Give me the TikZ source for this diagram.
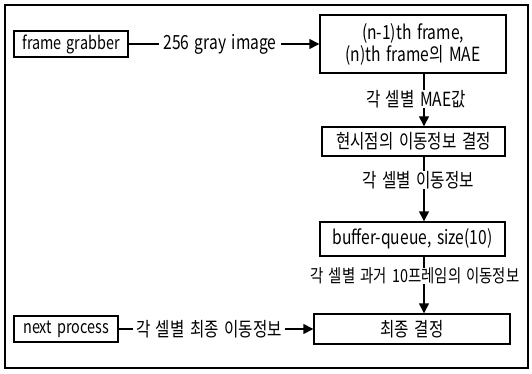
\documentclass[tikz,border=0pt]{standalone}
\usepackage{fontspec}
\setmainfont{Noto Sans CJK KR}[FakeStretch=0.8,WordSpace=1.6]
\usetikzlibrary{arrows.meta}
\begin{document}
\begin{tikzpicture}[x=1pt,y=-1pt,
  box/.style={draw,line width=1.4pt,inner sep=0pt,align=center,font=\fontsize{19.5}{23}\selectfont},
  lbl/.style={inner sep=2pt,font=\fontsize{19.5}{23}\selectfont},
  small/.style={font=\fontsize{18}{22}\selectfont},
  conn/.style={line width=1.4pt},
  arr/.style={line width=1.4pt,-{Triangle[length=10pt,width=10pt]}}]
\useasboundingbox (0,0) rectangle (532,374);
\draw[line width=1.5pt] (5,5) rectangle (528,368);
\node[box,small,minimum width=114pt,minimum height=26pt] (fg) at (71,44) {frame grabber};
\node[box,minimum width=186pt,minimum height=58pt] (mae) at (413,44) {(n-1)th frame,\\[-1pt](n)th frame의 MAE};
\node[box,minimum width=183pt,minimum height=29pt] (cur) at (413.5,141.5) {현시점의 이동정보 결정};
\node[box,minimum width=185pt,minimum height=34pt] (buf) at (412.5,239) {buffer-queue, size(10)};
\node[box,minimum width=196pt,minimum height=30pt] (fin) at (412,329) {최종 결정};
\node[box,small,minimum width=104pt,minimum height=26pt] (nxt) at (66,329) {next process};
\coordinate (ax) at (424,0);
\node[lbl,inner sep=4pt] (l0) at (220,44) {256 gray image};
\node[lbl,inner sep=0pt] (l1) at (416,99) {각 셀별 MAE값};
\node[lbl,inner sep=0pt,font=\fontsize{18}{22}\selectfont] (l3) at (415,276) {각 셀별 과거 10프레임의 이동정보};
\node[lbl,inner sep=0pt] (l2) at (418,180) {각 셀별 이동정보};
\node[lbl,inner sep=3pt] (l4) at (209,329) {각 셀별 최종 이동정보};
\draw[conn] (fg.east) -- (l0.west);
\draw[arr] (l0.east) -- (mae.west |- l0.east);
\draw[conn] (mae.south -| ax) -- (l1.north -| ax);
\draw[arr] (l1.south -| ax) -- (cur.north -| ax);
\draw[conn] (cur.south -| ax) -- (l2.north -| ax);
\draw[arr] (l2.south -| ax) -- (buf.north -| ax);
\draw[conn] (buf.south -| ax) -- (l3.north -| ax);
\draw[arr] (l3.south -| ax) -- (fin.north -| ax);
\draw[conn] (nxt.east) -- (l4.west);
\draw[arr] (l4.east) -- (fin.west);
\end{tikzpicture}
\end{document}
